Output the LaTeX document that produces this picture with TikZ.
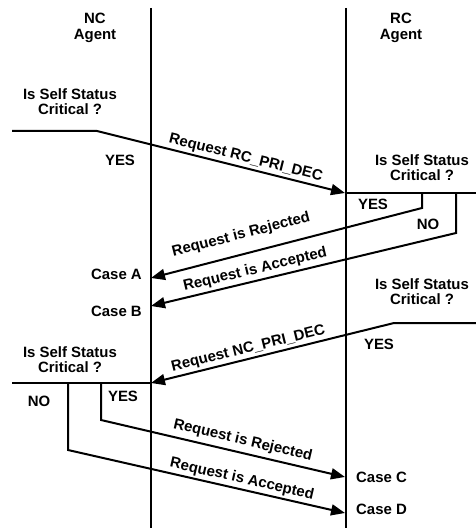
\documentclass[tikz,border=0pt]{standalone}
\usepackage{fontspec}
\setmainfont{Liberation Sans}
\usetikzlibrary{arrows.meta}
\begin{document}
\begin{tikzpicture}[x=1bp,y=-1bp,
  txt/.style={font=\bfseries\fontsize{15}{16}\selectfont, inner sep=0pt, align=center},
  lbl/.style={font=\bfseries\fontsize{15}{16}\selectfont, inner sep=0pt, sloped},
  life/.style={line width=2bp},
  wire/.style={line width=2bp},
  msg/.style={line width=2bp, -{Triangle[length=14bp,width=11bp]}}]
\useasboundingbox (0,0) rectangle (476,528);
% lifelines
\coordinate (nct) at (151,8); \coordinate (ncb) at (151,528);
\coordinate (rct) at (346,8); \coordinate (rcb) at (346,528);
\draw[life] (nct) -- (ncb);
\draw[life] (rct) -- (rcb);
% headers
\node[txt, anchor=north] (nch) at (95,13) {NC\\Agent};
\node[txt, anchor=north] (rch) at (401,13) {RC\\Agent};
% decision texts
\node[txt, anchor=north] (q1) at (70,88) {Is Self Status\\Critical ?};
\node[txt, anchor=north] (q2) at (422,154) {Is Self Status\\Critical ?};
\node[txt, anchor=north] (q3) at (422,278) {Is Self Status\\Critical ?};
\node[txt, anchor=north] (q4) at (70,346) {Is Self Status\\Critical ?};
% yes / no
\node[txt] (yes1) at (120,160.5) {YES};
\node[txt] (yes2) at (373,204) {YES};
\node[txt] (no2) at (428,224) {NO};
\node[txt] (yes3) at (379,344) {YES};
\node[txt] (no4) at (39,401) {NO};
\node[txt] (yes4) at (123,396) {YES};
% cases
\node[txt, anchor=east] (caseA) at (142,274) {Case A};
\node[txt, anchor=east] (caseB) at (142,311) {Case B};
\node[txt, anchor=west] (caseC) at (356,477.5) {Case C};
\node[txt, anchor=west] (caseD) at (356,509.5) {Case D};
% coordinates
\coordinate (a0) at (12,131); \coordinate (a1) at (97,131); \coordinate (a2) at (345,193);
\coordinate (r0) at (346,193); \coordinate (r1) at (476,193);
\coordinate (b1) at (422,193); \coordinate (b2) at (422,208); \coordinate (bt) at (151,278);
\coordinate (c1) at (456,193); \coordinate (c2) at (456,233); \coordinate (ct) at (151,306);
\coordinate (d0) at (476,323); \coordinate (d1) at (394,323); \coordinate (dt) at (151,383);
\coordinate (e0) at (12,383); \coordinate (e1) at (151,383);
\coordinate (f1) at (101,383); \coordinate (f2) at (101,420); \coordinate (ft) at (345,477);
\coordinate (g1) at (68,383); \coordinate (g2) at (68,450); \coordinate (gt) at (345,513);
% message 1
\draw[msg] (a0) -- (a1) -- node[lbl, pos=0.59, above=2bp] (m1) {Request RC\_PRI\_DEC} (a2);
\draw[wire] (r0) -- (r1);
\draw[msg] (b1) -- (b2) -- node[lbl, pos=0.65, above=11bp] (m2) {Request is Rejected} (bt);
\draw[msg] (c1) -- (c2) -- node[lbl, pos=0.65, above=3bp] (m3) {Request is Accepted} (ct);
% message 2
\draw[msg] (d0) -- (d1) -- node[lbl, pos=0.59, above=2bp] (m4) {Request NC\_PRI\_DEC} (dt);
\draw[wire] (e0) -- (e1);
\draw[msg] (f1) -- (f2) -- node[lbl, pos=0.57, above=4bp] (m5) {Request is Rejected} (ft);
\draw[msg] (g1) -- (g2) -- node[lbl, pos=0.62, above=2bp] (m6) {Request is Accepted} (gt);
\end{tikzpicture}
\end{document}
